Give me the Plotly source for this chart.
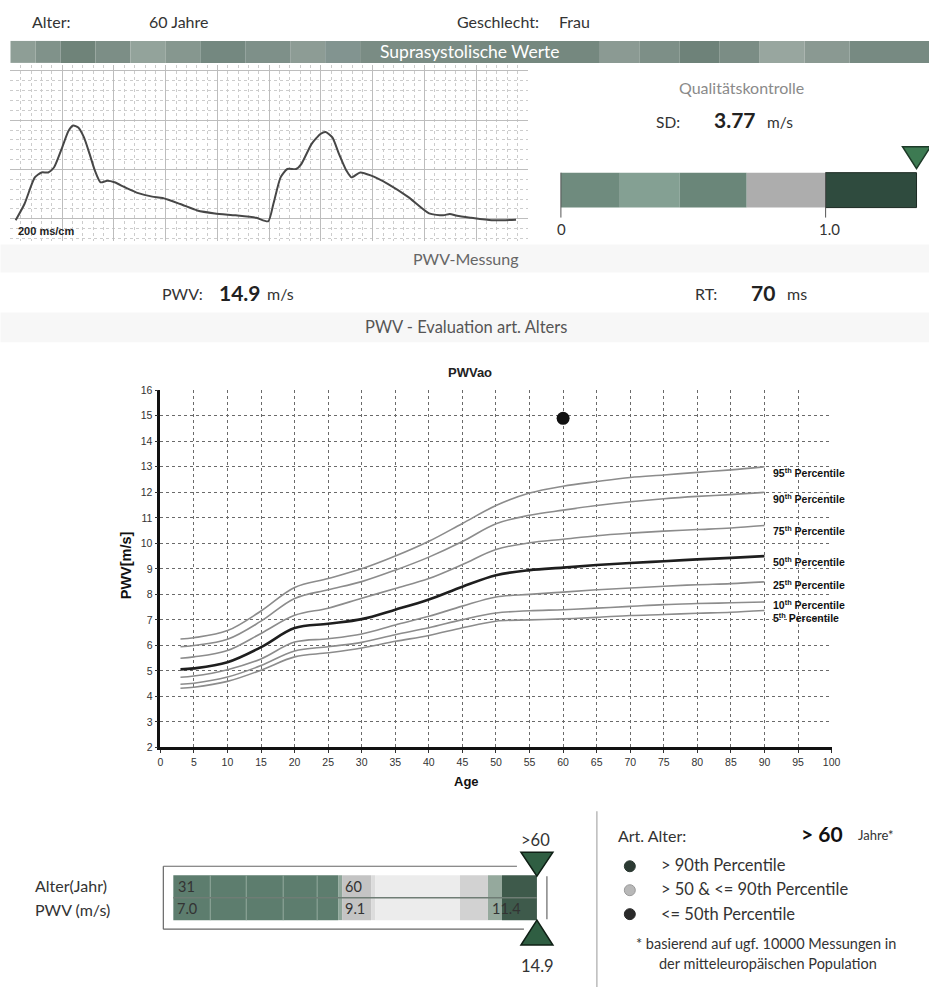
import plotly.graph_objects as go

# reference picture size (all positions below are in reference pixels)
REF_W, REF_H = 929, 987
# the capture shrinks the page slightly and shifts it a little, so the figure is drawn a bit larger
FIG_W, FIG_H = 940, 997
SHIFT_X, SHIFT_Y = 2.5, 5

# ---------------- data ----------------
ages = [3, 5, 10, 15, 20, 25, 30, 35, 40, 45, 50, 55, 60, 65, 70, 75, 80, 85, 90]
p95 = [6.25, 6.3, 6.58, 7.35, 8.27, 8.62, 9.0, 9.5, 10.08, 10.78, 11.48, 11.97, 12.24, 12.42, 12.58, 12.68, 12.78, 12.88, 13.0]
p90 = [5.95, 6.0, 6.24, 6.95, 7.84, 8.18, 8.5, 8.95, 9.46, 10.07, 10.77, 11.1, 11.3, 11.48, 11.63, 11.75, 11.84, 11.91, 12.0]
p75 = [5.5, 5.55, 5.8, 6.47, 7.18, 7.46, 7.85, 8.23, 8.62, 9.17, 9.76, 10.02, 10.16, 10.3, 10.4, 10.48, 10.54, 10.6, 10.7]
p50 = [5.06, 5.1, 5.34, 5.93, 6.68, 6.85, 7.03, 7.4, 7.8, 8.3, 8.75, 8.95, 9.05, 9.15, 9.23, 9.3, 9.37, 9.43, 9.5]
p25 = [4.75, 4.8, 5.05, 5.47, 6.13, 6.26, 6.45, 6.8, 7.14, 7.54, 7.9, 8.0, 8.09, 8.18, 8.25, 8.32, 8.38, 8.42, 8.49]
p10 = [4.48, 4.52, 4.76, 5.21, 5.78, 5.95, 6.12, 6.42, 6.69, 7.01, 7.27, 7.36, 7.4, 7.46, 7.53, 7.6, 7.64, 7.67, 7.7]
p5 = [4.32, 4.36, 4.59, 5.03, 5.55, 5.71, 5.9, 6.16, 6.39, 6.69, 6.95, 7.0, 7.04, 7.1, 7.17, 7.21, 7.26, 7.3, 7.37]
percentile_names = ["95", "90", "75", "50", "25", "10", "5"]
label_values = [12.79, 11.77, 10.51, 9.27, 8.39, 7.59, 7.09]

patient_age = [60]
patient_pwv = [14.9]

x_ticks = list(range(0, 101, 5))
y_ticks = list(range(2, 17))

# pulse waveform (cm at 200 ms/cm, relative amplitude)
wave_x = [0.10, 0.27, 0.47, 0.60, 0.73, 0.84, 1.00, 1.12, 1.21, 1.31, 1.42, 1.53, 1.63, 1.74, 1.87, 2.01,
          2.21, 2.47, 2.74, 2.94, 3.28, 3.61, 3.95, 4.35, 4.75, 4.98, 5.08, 5.22, 5.35, 5.52, 5.62, 5.82,
          5.99, 6.09, 6.22, 6.35, 6.49, 6.59, 6.76, 6.96, 7.29, 7.69, 8.09, 8.36, 8.49, 8.63, 8.90, 9.30, 9.77]
wave_y = [-0.03, 0.30, 0.84, 0.94, 0.94, 1.04, 1.45, 1.78, 1.89, 1.85, 1.65, 1.31, 0.98, 0.74, 0.77, 0.74,
          0.64, 0.52, 0.45, 0.42, 0.30, 0.17, 0.11, 0.07, 0.02, -0.05, 0.30, 0.84, 1.01, 1.01, 1.11, 1.52,
          1.72, 1.76, 1.65, 1.31, 0.98, 0.84, 0.94, 0.88, 0.71, 0.44, 0.11, 0.07, 0.10, 0.06, 0.02, -0.03, -0.02]

sd_value = "3.77"
pwv_value = "14.9"
rt_value = "70"
bar_age_labels = ["31", "60"]
bar_pwv_labels = ["7.0", "9.1", "11.4"]

# ---------------- helpers ----------------
FONT = "Lato, Open Sans, sans-serif"
AFONT = "Liberation Sans, Arial, sans-serif"


def X(px):
    return (px - SHIFT_X) / REF_W


def Y(py):
    return 1 - (py - SHIFT_Y) / REF_H


shapes = []
annotations = []


def rect(x0, y0, x1, y1, fill, line=None, lw=0):
    shapes.append(dict(type="rect", xref="paper", yref="paper", x0=X(x0), x1=X(x1), y0=Y(y1), y1=Y(y0),
                       fillcolor=fill, line=dict(color=line or fill, width=lw), layer="below"))


def line(x0, y0, x1, y1, color="#666", width=1, layer="above"):
    shapes.append(dict(type="line", xref="paper", yref="paper", x0=X(x0), x1=X(x1), y0=Y(y0), y1=Y(y1),
                       line=dict(color=color, width=width), layer=layer))


def tri(pts, fill, outline):
    path = "M " + " L ".join(f"{X(a):.5f},{Y(b):.5f}" for a, b in pts) + " Z"
    shapes.append(dict(type="path", xref="paper", yref="paper", path=path, fillcolor=fill,
                       line=dict(color=outline, width=1.5)))


def circ(cx, cy, r, fill, outline=None):
    shapes.append(dict(type="circle", xref="paper", yref="paper", x0=X(cx - r), x1=X(cx + r),
                       y0=Y(cy + r), y1=Y(cy - r), fillcolor=fill, line=dict(color=outline or fill, width=1)))


def txt(x, y, s, size=13, color="#333", anchor="left", family=FONT, angle=0):
    annotations.append(dict(x=X(x), y=Y(y), xref="paper", yref="paper", text=s, showarrow=False,
                            xanchor=anchor, yanchor="middle", textangle=angle,
                            font=dict(size=size, color=color, family=family)))


# ---------------- header ----------------
txt(30, 21, "Alter:", 16)
txt(147, 21, "60 Jahre", 16)
txt(455, 21, "Geschlecht:", 16)
txt(557, 21, "Frau", 16)

banner_segments = [(10, 35, "#8e9e96"), (35, 60, "#80928a"), (60, 95, "#6f8379"), (95, 130, "#7c8e86"),
                   (130, 165, "#93a39b"), (165, 200, "#86978f"), (200, 245, "#748880"), (245, 290, "#7e9089"),
                   (290, 325, "#8d9c95"), (325, 360, "#829490"), (360, 480, "#7a8c84"), (480, 600, "#75887f"),
                   (600, 640, "#8b9a93"), (640, 680, "#7d8f87"), (680, 720, "#6e8279"), (720, 760, "#7b8d85"),
                   (760, 805, "#98a69f"), (805, 850, "#8a9992"), (850, 935, "#778a82")]
for a, b, c in banner_segments:
    rect(a, 40, b, 62, c)
txt(470, 51, "Suprasystolische Werte", 17.5, "white", "center")

txt(16, 230, "<b>200 ms/cm</b>", 11, "#222", family=AFONT)

# quality control
txt(742, 87, "Qualitätskontrolle", 16, "#8a8a8a", "center")
txt(668, 121, "SD:", 15.5, "#333", "center")
txt(735, 119, f"<b>{sd_value}</b>", 21, "#222", "center")
txt(780, 121, "m/s", 15.5, "#333", "center")
for a, b, c in [(561, 620, "#6f8b7e"), (620, 680, "#84a093"), (680, 747, "#6a8679")]:
    rect(a, 172, b, 207, c)
rect(747, 172, 826, 207, "#adadad")
rect(826, 172, 917, 207, "#2f4b3e", "#1c2a23", 1)
line(561, 172, 561, 217, "#555", 1)
line(826, 172, 826, 217, "#555", 1)
txt(562, 228, "0", 15, "#333", "center")
txt(830, 228, "1.0", 15, "#333", "center")
tri([(903, 146), (931, 146), (917, 168)], "#3d7a52", "#1d3a28")

# PWV Messung
rect(0, 244, 935, 272, "#f7f7f7")
rect(0, 312, 935, 342, "#f7f7f7")
txt(466, 258, "PWV-Messung", 16, "#666", "center")
txt(160, 293, "PWV:", 16, "#333")
txt(217, 292, f"<b>{pwv_value}</b>", 21, "#222")
txt(265, 293, "m/s", 16, "#333")
txt(693, 293, "RT:", 16, "#333")
txt(749, 292, f"<b>{rt_value}</b>", 21, "#222")
txt(785, 293, "ms", 16, "#333")
txt(466, 327, "PWV - Evaluation art. Alters", 16.5, "#555", "center")

# main chart labels
txt(470, 372, "<b>PWVao</b>", 13, "#222", "center", AFONT)
txt(125, 565, "<b>PWV[m/s]</b>", 14.5, "#111", "center", AFONT, -90)
txt(466, 782, "<b>Age</b>", 13, "#111", "center", AFONT)

# ---------------- bottom area ----------------
line(597, 812, 597, 992, "#bbbbbb", 1.5)
txt(33, 886, "Alter(Jahr)", 16, "#333")
txt(33, 910, "PWV (m/s)", 16, "#333")

rect(173, 876, 338, 921, "#5d7d6e")
rect(338, 876, 342, 921, "#8fa69a")
rect(342, 876, 371, 921, "#c4c4c4")
rect(371, 876, 375, 921, "#dcdcdc")
rect(375, 876, 460, 921, "#ececec")
rect(460, 876, 488, 921, "#d2d2d2")
rect(488, 876, 502, 921, "#95a99d")
rect(502, 876, 537, 921, "#3e5a4b")
for sx in [210, 246, 283, 317]:
    line(sx, 876, sx, 921, "#94aa9e", 1)
line(173, 898.5, 537, 898.5, "#6f7d75", 1.5)
line(163, 867, 517, 867, "#666", 1.2)
line(163, 867, 163, 930, "#666", 1.2)
line(163, 930, 524, 930, "#666", 1.2)
line(547, 877, 547, 920, "#666", 1.2)
txt(176, 887, bar_age_labels[0], 14.5, "#333")
txt(343, 887, bar_age_labels[1], 14.5, "#333")
txt(175, 909, bar_pwv_labels[0], 14.5, "#333")
txt(343, 909, bar_pwv_labels[1], 14.5, "#333")
txt(490, 909, bar_pwv_labels[2], 14.5, "#333")
tri([(521, 853), (553, 853), (537, 877)], "#2f5e42", "#0f1f15")
tri([(521, 946), (553, 946), (537, 921)], "#2f5e42", "#0f1f15")
txt(536, 841, "&gt;60", 16.5, "#333", "center")
txt(538, 967, "14.9", 16.5, "#333", "center")

# legend box
txt(616, 836, "Art. Alter:", 16, "#333")
txt(822, 834, "<b>&gt; 60</b>", 21, "#111", "center")
txt(856, 836, "Jahre*", 13, "#333")
circ(630, 867, 5.5, "#2c3a33")
circ(630, 891, 5.5, "#b8b8b8", "#9a9a9a")
circ(630, 915, 5.5, "#2a2a2a")
txt(659, 866, "&gt; 90th Percentile", 16.5, "#333")
txt(659, 890, "&gt; 50 &amp; &lt;= 90th Percentile", 16.5, "#333")
txt(659, 915, "&lt;= 50th Percentile", 16.5, "#333")
txt(634, 944, "* basierend auf ugf. 10000 Messungen in", 14.5, "#333")
txt(768, 964, "der mitteleuropäischen Population", 14.5, "#333", "center")

# ---------------- traces ----------------
fig = go.Figure()

series = [p95, p90, p75, p50, p25, p10, p5]
for name, vals in zip(percentile_names, series):
    is_med = name == "50"
    fig.add_trace(go.Scatter(x=ages, y=vals, mode="lines", line_shape="spline",
                             line=dict(color="#1e1e1e" if is_med else "#8c8c8c", width=2.6 if is_med else 1.6,
                                       smoothing=1.0),
                             hoverinfo="skip", showlegend=False, xaxis="x", yaxis="y"))

fig.add_trace(go.Scatter(x=patient_age, y=patient_pwv, mode="markers",
                         marker=dict(color="#111", size=13), showlegend=False, xaxis="x", yaxis="y"))

for name, v in zip(percentile_names, label_values):
    annotations.append(dict(x=91, y=v, xref="x", yref="y", showarrow=False, xanchor="left", yanchor="middle",
                            text=f"<b>{name}<sup>th</sup> Percentile</b>",
                            font=dict(size=10.5, color="#111", family=AFONT)))

fig.add_trace(go.Scatter(x=wave_x, y=wave_y, mode="lines", line_shape="spline",
                         line=dict(color="#474747", width=2, smoothing=0.6),
                         hoverinfo="skip", showlegend=False, xaxis="x2", yaxis="y2"))

fig.update_layout(
    width=FIG_W, height=FIG_H, autosize=False,
    margin=dict(l=0, r=0, t=0, b=0),
    paper_bgcolor="white", plot_bgcolor="white",
    showlegend=False,
    shapes=shapes, annotations=annotations,
    xaxis=dict(domain=[X(160), X(832)], range=[0, 100], tickvals=x_ticks, showgrid=True,
               gridcolor="#6a6a6a", griddash="dot", gridwidth=1, showline=True, linecolor="#111",
               linewidth=3, ticks="outside", ticklen=3, tickcolor="#333", zeroline=False,
               tickfont=dict(size=10.5, color="#333", family=AFONT), fixedrange=True),
    yaxis=dict(domain=[Y(748), Y(390)], range=[2, 16], tickvals=y_ticks, showgrid=True,
               gridcolor="#6a6a6a", griddash="dot", gridwidth=1, showline=True, linecolor="#111",
               linewidth=2.5, ticks="outside", ticklen=3, tickcolor="#333", zeroline=False,
               tickfont=dict(size=10.5, color="#333", family=AFONT), fixedrange=True),
    xaxis2=dict(domain=[X(10), X(528)], range=[0, 10], dtick=1, tick0=0, showgrid=True,
                gridcolor="#bdbdbd", gridwidth=1, showticklabels=False, zeroline=False, showline=False,
                minor=dict(dtick=0.2, showgrid=True, gridcolor="#cccccc", griddash="dot", gridwidth=1),
                anchor="y2", fixedrange=True),
    yaxis2=dict(domain=[Y(240), Y(64)], range=[-0.44, 3.12], dtick=1, tick0=0, showgrid=True,
                gridcolor="#bdbdbd", gridwidth=1, showticklabels=False, zeroline=False, showline=False,
                minor=dict(dtick=0.2, showgrid=True, gridcolor="#cccccc", griddash="dot", gridwidth=1),
                anchor="x2", fixedrange=True),
)

# remove the default page margin so the figure starts at the window's corner
page_css = "document.body.style.margin='0';document.body.style.overflow='hidden';"
fig.write_html("out.html", post_script=page_css, config={"displayModeBar": False})
